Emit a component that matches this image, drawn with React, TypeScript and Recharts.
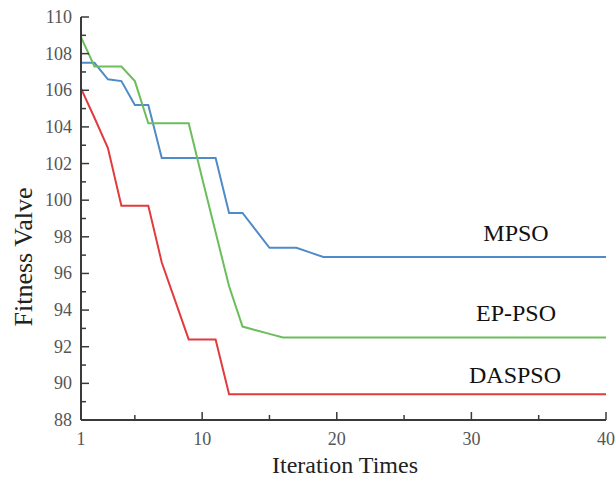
import React from "react";
import { LineChart, Line, XAxis, YAxis } from "recharts";

// iteration index
const iterations = Array.from({ length: 40 }, (_, i) => i + 1);

// fitness values per iteration (iterations 1..19, then flat)
const mpsoHead = [
  107.5, 107.5, 106.6, 106.5, 105.2, 105.2, 102.3, 102.3, 102.3, 102.3, 102.3,
  99.3, 99.3, 98.35, 97.4, 97.4, 97.4, 97.15, 96.9,
];
const epHead = [
  108.9, 107.3, 107.3, 107.3, 106.5, 104.2, 104.2, 104.2, 104.2, 101.2, 98.25,
  95.3, 93.1, 92.9, 92.7, 92.5,
];
const dasHead = [
  106.1, 104.5, 102.85, 99.7, 99.7, 99.7, 96.6, 94.5, 92.4, 92.4, 92.4, 89.4,
];

const xTicks = [1, 5, 10, 15, 20, 25, 30, 35, 40];
const xLabelled = [1, 10, 20, 30, 40];
const yTicks = Array.from({ length: 23 }, (_, i) => 88 + i);

const pad = (head: number[]) =>
  iterations.map((_, i) => (i < head.length ? head[i] : head[head.length - 1]));

const mpso = pad(mpsoHead);
const epPso = pad(epHead);
const daspso = pad(dasHead);

const data = iterations.map((it, i) => ({
  it,
  mpso: mpso[i],
  ep: epPso[i],
  das: daspso[i],
}));

const FONT = "'Liberation Serif', 'Times New Roman', serif";
const AXIS = "#3a3a3a";

function YTick(props: any) {
  const { x, y, payload } = props;
  const v = payload.value;
  const major = v % 2 === 0;
  return (
    <g>
      <line x1={x} x2={x + (major ? 8 : 5)} y1={y} y2={y} stroke={AXIS} strokeWidth={1.5} />
      {major && (
        <text x={x - 9} y={y} dy={6} textAnchor="end" fontSize={18} fill="#555" fontFamily={FONT}>
          {v}
        </text>
      )}
    </g>
  );
}

function XTick(props: any) {
  const { x, y, payload } = props;
  const v = payload.value;
  const major = xLabelled.includes(v);
  return (
    <g>
      <line x1={x} x2={x} y1={y} y2={y - (major ? 8 : 5)} stroke={AXIS} strokeWidth={1.5} />
      {major && (
        <text x={x} y={y + 25} textAnchor="middle" fontSize={18} fill="#555" fontFamily={FONT}>
          {v}
        </text>
      )}
    </g>
  );
}

export default function App() {
  return (
    <div style={{ width: 615, height: 478, background: "#fff" }}>
      <style>{"body{margin:0}"}</style>
      <LineChart
        width={615}
        height={478}
        data={data}
        margin={{ top: 17, right: 9, bottom: 0, left: 0 }}
      >
        <XAxis
          dataKey="it"
          type="number"
          domain={[1, 40]}
          ticks={xTicks}
          interval={0}
          tickSize={0}
          tickMargin={0}
          tickLine={false}
          tick={<XTick />}
          height={58}
          stroke={AXIS}
          strokeWidth={2}
        />
        <YAxis
          type="number"
          domain={[88, 110]}
          ticks={yTicks}
          interval={0}
          tickSize={0}
          tickMargin={0}
          tickLine={false}
          tick={<YTick />}
          width={81}
          stroke={AXIS}
          strokeWidth={2}
        />
        <Line type="linear" dataKey="mpso" stroke="#4f8bc9" strokeWidth={2} dot={false} isAnimationActive={false} />
        <Line type="linear" dataKey="ep" stroke="#6cbd5c" strokeWidth={2} dot={false} isAnimationActive={false} />
        <Line type="linear" dataKey="das" stroke="#e23b3e" strokeWidth={2} dot={false} isAnimationActive={false} />
        <text x={345} y={473} textAnchor="middle" fontSize={24} fill="#222" fontFamily={FONT}>
          Iteration Times
        </text>
        <text
          x={32}
          y={257}
          textAnchor="middle"
          transform="rotate(-90 32 257)"
          fontSize={26}
          fill="#222"
          fontFamily={FONT}
        >
          Fitness Valve
        </text>
        <text x={516} y={241} textAnchor="middle" fontSize={24} fill="#111" fontFamily={FONT}>
          MPSO
        </text>
        <text x={516} y={321} textAnchor="middle" fontSize={24} fill="#111" fontFamily={FONT}>
          EP-PSO
        </text>
        <text x={515} y={383} textAnchor="middle" fontSize={24} fill="#111" fontFamily={FONT}>
          DASPSO
        </text>
      </LineChart>
    </div>
  );
}
